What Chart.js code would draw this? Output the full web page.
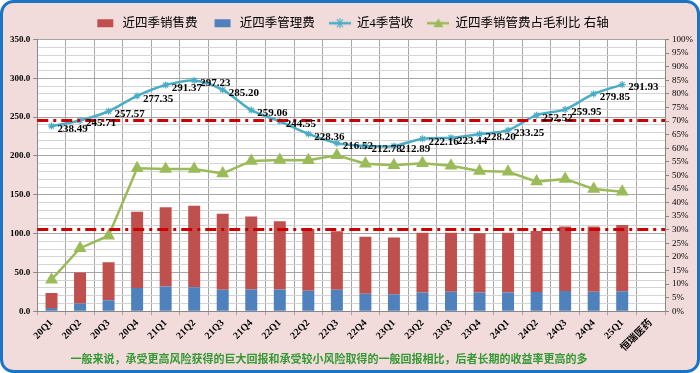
<!DOCTYPE html>
<html>
<head>
<meta charset="utf-8">
<script src="https://cdn.jsdelivr.net/npm/chart.js@4.4.1/dist/chart.umd.min.js"></script>
<style>
  html, body { margin: 0; padding: 0; background: #fff; }
</style>
</head>
<body>
<canvas id="c" width="700" height="373"></canvas>
<script>
// data
const quarters = ['20Q1', '20Q2', '20Q3', '20Q4', '21Q1', '21Q2', '21Q3', '21Q4', '22Q1', '22Q2', '22Q3',
    '22Q4', '23Q1', '23Q2', '23Q3', '23Q4', '24Q1', '24Q2', '24Q3', '24Q4', '25Q1', '恒瑞医药'];
// 近四季销售费 (stacked on top of 管理费)
const salesExp = [19.2, 40.2, 49, 98, 102, 105, 97.8, 94, 88, 79.5, 75.2, 73.4, 73, 77, 76, 76.4, 77, 78.6, 83, 83.8, 85.4];
// 近四季管理费
const adminExp = [4.3, 9.8, 14, 30, 32, 31, 27.8, 28, 28, 26.5, 27.8, 22.6, 22, 24, 25, 24, 24, 24.8, 26, 25.2, 25.6];
// 近4季营收
const revenue = [238.49, 245.71, 257.57, 277.35, 291.37, 297.23, 285.20, 259.06, 244.55, 228.36, 216.52,
    212.78, 212.89, 222.16, 223.44, 228.20, 233.25, 252.52, 259.95, 279.85, 291.93];
// 近四季销管费占毛利比 (%), right axis
const costRatio = [11.6, 23.2, 27.8, 52.6, 52.3, 52.3, 50.7, 55.3, 55.7, 55.6, 57.4, 54.3, 53.7, 54.5, 53.5,
    51.6, 51.3, 47.7, 48.7, 45.0, 44.0];
// red dash-dot reference levels (left axis)
const refLevels = [246, 106];

const seriesNames = ['近四季销售费', '近四季管理费', '近4季营收', '近四季销管费占毛利比 右轴'];
const footNote = '一般来说，承受更高风险获得的巨大回报和承受较小风险取得的一般回报相比，后者长期的收益率更高的多';

const RED = '#C0504D', BLUE = '#4F81BD', CYAN = '#4BACC6', GREEN = '#9BBB59';
const SERIF = "'Liberation Serif', 'Noto Sans CJK SC', serif";

// small legend icons
function legendIcon(kind, color) {
    const c = document.createElement('canvas');
    c.width = 22; c.height = 12;
    const g = c.getContext('2d');
    if (kind === 'rect') {
        g.fillStyle = color;
        g.fillRect(3, 2, 16, 8);
    } else {
        g.strokeStyle = color;
        g.lineWidth = 2.5;
        g.beginPath(); g.moveTo(0, 6); g.lineTo(22, 6); g.stroke();
        if (kind === 'star') {
            g.lineWidth = 1.2;
            g.beginPath();
            g.moveTo(8, 2); g.lineTo(14, 10);
            g.moveTo(14, 2); g.lineTo(8, 10);
            g.moveTo(11, 1); g.lineTo(11, 11);
            g.stroke();
        } else {
            g.fillStyle = color;
            g.beginPath(); g.moveTo(11, 1); g.lineTo(16, 10); g.lineTo(6, 10); g.closePath(); g.fill();
        }
    }
    return c;
}
const icons = [legendIcon('rect', RED), legendIcon('rect', BLUE), legendIcon('star', CYAN), legendIcon('tri', GREEN)];

// pink frame, white plot area, footnote
const framePlugin = {
    id: 'frame',
    beforeDraw(chart) {
        const g = chart.ctx, a = chart.chartArea;
        g.save();
        g.fillStyle = '#fff';
        g.fillRect(0, 0, chart.width, chart.height);
        g.beginPath();
        g.roundRect(1.5, 1.5, chart.width - 3, chart.height - 3, 12);
        g.fillStyle = '#F2DCDB';
        g.fill();
        g.lineWidth = 3;
        g.strokeStyle = '#1B75C4';
        g.stroke();
        g.fillStyle = '#fff';
        g.fillRect(a.left, a.top, a.right - a.left, a.bottom - a.top);
        g.restore();
    },
    afterDraw(chart) {
        const g = chart.ctx;
        g.save();
        g.font = "bold 11px 'Noto Sans CJK SC', sans-serif";
        g.fillStyle = '#339933';
        g.textAlign = 'center';
        g.textBaseline = 'middle';
        g.fillText(footNote, 329, 359);
        g.restore();
    }
};

// dash-dot reference lines + revenue value labels
const overlayPlugin = {
    id: 'overlay',
    afterDatasetsDraw(chart) {
        const g = chart.ctx, a = chart.chartArea, y = chart.scales.y;
        g.save();
        g.strokeStyle = '#CC0000';
        g.lineWidth = 3;
        g.setLineDash([11, 5, 3, 5]);
        refLevels.forEach(v => {
            const py = Math.round(y.getPixelForValue(v)) + 0.5;
            g.beginPath(); g.moveTo(a.left, py); g.lineTo(a.right, py); g.stroke();
        });
        g.setLineDash([]);
        g.font = 'bold 11px ' + SERIF;
        g.fillStyle = '#000';
        g.textAlign = 'left';
        g.textBaseline = 'middle';
        chart.getDatasetMeta(2).data.forEach((pt, i) => {
            g.fillText(revenue[i].toFixed(2), pt.x + 6, pt.y + 3);
        });
        g.restore();
    }
};

const ctx = document.getElementById('c').getContext('2d');
new Chart(ctx, {
    type: 'bar',
    data: {
        labels: quarters,
        datasets: [
            { label: seriesNames[0], data: salesExp, backgroundColor: RED, stack: 'cost', order: 2,
              barPercentage: 0.42, categoryPercentage: 1, yAxisID: 'y' },
            { label: seriesNames[1], data: adminExp, backgroundColor: BLUE, stack: 'cost', order: 1,
              barPercentage: 0.42, categoryPercentage: 1, yAxisID: 'y' },
            { type: 'line', label: seriesNames[2], data: revenue, borderColor: CYAN, backgroundColor: CYAN,
              borderWidth: 2.5, tension: 0.3, pointStyle: 'star', pointRadius: 3.5, pointBorderWidth: 1.2,
              stack: 'rev', order: 0, yAxisID: 'y' },
            { type: 'line', label: seriesNames[3], data: costRatio, borderColor: GREEN, backgroundColor: GREEN,
              borderWidth: 2.5, tension: 0, pointStyle: 'triangle', pointRadius: 5,
              order: 0, yAxisID: 'y1' }
        ]
    },
    options: {
        responsive: false,
        animation: false,
        devicePixelRatio: 1,
        layout: { padding: { left: 7, right: 4, top: 3, bottom: 17 } },
        plugins: {
            tooltip: { enabled: false },
            legend: {
                position: 'top',
                labels: {
                    usePointStyle: true,
                    pointStyleWidth: 22,
                    padding: 14,
                    color: '#000',
                    font: { family: SERIF, size: 12.5 },
                    generateLabels: chart => chart.data.datasets.map((ds, i) => ({
                        text: ds.label, pointStyle: icons[i], datasetIndex: i,
                        fillStyle: 'transparent', strokeStyle: 'transparent', lineWidth: 0
                    }))
                }
            }
        },
        scales: {
            x: {
                stacked: true,
                offset: true,
                grid: { offset: true, color: '#A6A6A6', tickLength: 4 },
                border: { color: '#888' },
                ticks: { color: '#000', font: { family: SERIF, size: 10, weight: 'bold' },
                         maxRotation: 45, minRotation: 45, autoSkip: false, padding: 2 }
            },
            y: {
                stacked: true,
                position: 'left',
                min: 0, max: 350,
                grid: {
                    color: c => c.tick.value % 50 === 0 ? '#A6A6A6' : '#D4D4D4',
                    tickColor: c => c.tick.value % 50 === 0 ? '#888' : 'rgba(0,0,0,0)',
                    tickLength: 4
                },
                border: { color: '#888' },
                ticks: {
                    stepSize: 10, autoSkip: false, padding: 3, color: '#000',
                    font: { family: SERIF, size: 9, weight: 'bold' },
                    callback: v => v % 50 === 0 ? v.toFixed(1) : ''
                }
            },
            y1: {
                position: 'right',
                min: 0, max: 100,
                grid: { drawOnChartArea: false, color: '#888', tickLength: 4 },
                border: { color: '#888' },
                ticks: {
                    stepSize: 5, autoSkip: false, padding: 3, color: '#000',
                    font: { family: SERIF, size: 9 },
                    callback: v => v + '%'
                }
            }
        }
    },
    plugins: [framePlugin, overlayPlugin]
});
</script>
</body>
</html>
